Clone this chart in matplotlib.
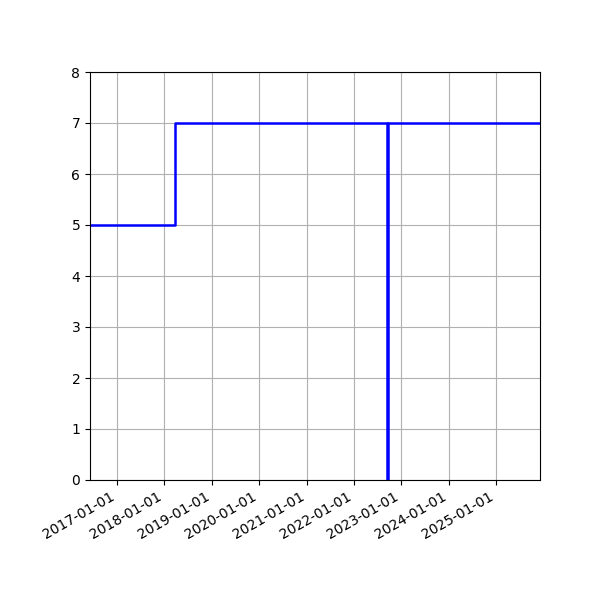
import numpy as np
import pandas as pd
import matplotlib
matplotlib.use('Agg')
import matplotlib.pyplot as plt
import matplotlib.dates as mdates

# step data
dates = pd.to_datetime(['2016-06-07', '2018-03-27', '2022-09-11', '2022-09-19', '2025-12-06'])
values = [5, 7, 0, 7, 7]

fig, ax = plt.subplots(figsize=(6, 6), dpi=100)
ax.plot(dates, values, drawstyle='steps-post', color='blue', linewidth=1.8)
ax.set_xlim(dates[0], dates[-1])
ax.set_ylim(0, 8)
ax.xaxis.set_major_locator(mdates.YearLocator())
ax.xaxis.set_major_formatter(mdates.DateFormatter('%Y-%m-%d'))
ax.grid(True)
fig.autofmt_xdate()
fig.subplots_adjust(left=0.15, right=0.9, top=0.88, bottom=0.2)
fig.savefig('out.png')
